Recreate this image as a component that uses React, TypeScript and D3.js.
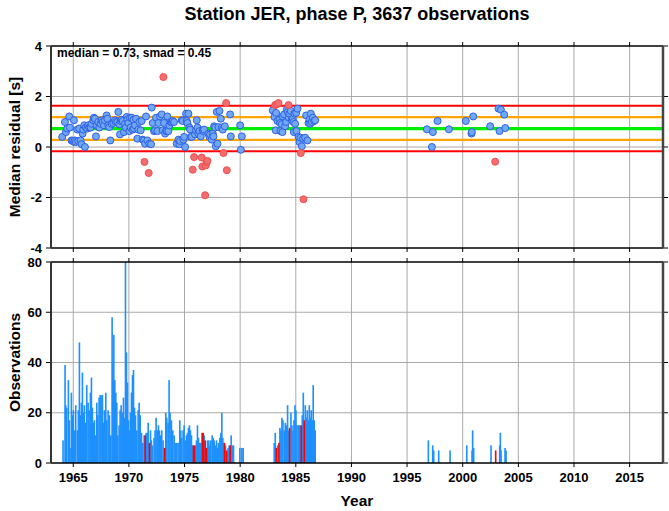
import React from 'react';
import * as d3 from 'd3';

const W = 669;
const H = 511;

const MEDIAN = 0.73;
const SMAD = 0.45;

const xTicks = [1965, 1970, 1975, 1980, 1985, 1990, 1995, 2000, 2005, 2010, 2015];
const resTicks = [-4, -2, 0, 2, 4];
const obsTicks = [0, 20, 40, 60, 80];

// monthly median residuals (year, residual)
const resYears = [
  1964.01, 1964.25, 1964.34, 1964.46, 1964.64, 1964.70, 1964.85, 1964.94, 1965.06, 1965.08,
  1965.15, 1965.24, 1965.36, 1965.45, 1965.54, 1965.66, 1965.75, 1965.84, 1965.90, 1965.99,
  1966.05, 1966.14, 1966.26, 1966.35, 1966.44, 1966.56, 1966.65, 1966.80, 1966.86, 1966.95,
  1967.04, 1967.10, 1967.25, 1967.34, 1967.46, 1967.55, 1967.64, 1967.76, 1967.85, 1968.00,
  1968.06, 1968.15, 1968.24, 1968.33, 1968.45, 1968.60, 1968.75, 1968.84, 1968.96, 1969.05,
  1969.14, 1969.20, 1969.26, 1969.35, 1969.44, 1969.56, 1969.65, 1969.74, 1969.80, 1969.86,
  1969.95, 1970.04, 1970.10, 1970.16, 1970.25, 1970.34, 1970.40, 1970.46, 1970.55, 1970.64,
  1970.76, 1970.85, 1970.94, 1971.06, 1971.15, 1971.24, 1971.36, 1971.45, 1971.40, 1971.54,
  1971.66, 1971.78, 1971.84, 1971.99, 1972.05, 1972.14, 1972.26, 1972.35, 1972.44, 1972.56,
  1972.65, 1972.80, 1972.95, 1973.04, 1973.10, 1973.16, 1973.25, 1973.34, 1973.40, 1973.46,
  1973.55, 1973.64, 1973.76, 1973.85, 1973.94, 1974.06, 1974.30, 1974.45, 1974.54, 1974.60,
  1974.75, 1974.84, 1974.90, 1974.96, 1975.05, 1975.14, 1975.20, 1975.26, 1975.35, 1975.44,
  1975.50, 1975.56, 1975.65, 1975.74, 1975.86, 1975.95, 1976.04, 1976.10, 1976.16, 1976.25,
  1976.34, 1976.46, 1976.55, 1976.60, 1976.64, 1976.70, 1976.76, 1976.85, 1976.91, 1977.00,
  1977.06, 1977.15, 1977.24, 1977.30, 1977.45, 1977.54, 1977.60, 1977.66, 1977.75, 1977.81,
  1977.90, 1977.96, 1978.05, 1978.14, 1978.26, 1978.35, 1978.44, 1978.50, 1978.62, 1978.74,
  1978.80, 1979.10, 1979.16, 1980.00, 1980.06, 1980.15,
  1982.93, 1983.08, 1983.14, 1983.20, 1983.23, 1983.29, 1983.35, 1983.44, 1983.53, 1983.59,
  1983.62, 1983.74, 1983.80, 1983.83, 1983.95, 1984.04, 1984.13, 1984.19, 1984.28, 1984.34,
  1984.37, 1984.43, 1984.55, 1984.64, 1984.73, 1984.79, 1984.82, 1984.88, 1984.94, 1985.03,
  1985.06, 1985.15, 1985.24, 1985.33, 1985.42, 1985.45, 1985.54, 1985.66, 1985.69, 1985.84,
  1985.93, 1986.05, 1986.14, 1986.23, 1986.29, 1986.35, 1986.44, 1986.53, 1986.65, 1986.74,
  1996.78, 1997.23, 1997.32, 1997.74, 1998.76, 2000.28, 2000.79, 2000.82, 2000.94, 2002.47,
  2002.92, 2003.22, 2003.31, 2003.43, 2003.73, 2003.82,
];
const resValues = [
  0.40, 0.99, 0.59, 0.73, 1.21, 0.77, 0.26, 0.24, 1.06, 0.20,
  0.26, 0.20, 0.69, 0.24, 0.73, 0.26, 0.11, 0.53, 0.69, 0.86,
  0.00, 0.77, 0.73, 0.86, 0.77, 0.77, 0.92, 1.06, 1.16, 1.12,
  0.42, 0.86, 0.99, 0.77, 0.92, 1.06, 0.99, 0.86, 1.06, 1.25,
  1.12, 0.86, 0.79, 0.26, 0.92, 0.95, 1.06, 0.99, 0.99, 1.39,
  0.90, 0.50, 1.03, 1.08, 1.03, 0.59, 0.92, 0.77, 1.19, 1.08,
  0.95, 0.63, 1.16, 0.77, 1.16, 0.69, 1.08, 0.73, 0.86, 1.12,
  0.33, 0.69, 0.99, 0.66, 1.03, 0.29, 0.26, 0.13, -0.59, 1.21,
  0.26, -1.03, 0.13, 0.11, 1.56, 0.95, 0.63, 0.66, 1.16, 0.63,
  0.95, 1.21, 1.29, 0.66, 2.77, 0.95, 0.53, 0.63, 0.63, 1.21,
  0.63, 0.86, 0.99, 0.99, 1.03, 0.99, 0.13, 0.29, 0.11, 0.24,
  1.06, 1.03, 0.29, 0.40, 0.00, 1.32, 1.03, 0.95, 1.32, 0.77,
  0.69, 0.40, 0.40, -0.90, -0.40, 0.50, 0.66, 1.06, 0.77, 0.53,
  0.63, 0.42, -0.42, -0.77, 0.66, 0.63, 0.69, -1.91, -0.73, -0.59,
  -0.55, 0.53, 0.40, 0.50, 0.29, 0.53, 0.42, 0.82, 0.77, 0.03,
  1.39, 0.13, 0.79, 1.43, 1.12, 0.77, 0.69, -0.24, 0.82, 1.74,
  -0.92, 1.29, 0.42, 0.86, -0.11, 0.42,
  1.45, 1.19, 1.66, 0.66, 1.35, 1.69, 1.03, 1.74, 1.08, 0.95,
  0.63, 0.90, 0.59, 1.21, 1.29, 0.82, 0.99, 1.48, 1.39, 1.66,
  1.16, 1.32, 1.43, 1.08, 1.12, 0.99, 0.59, 1.32, 0.92, 1.35,
  0.63, 1.52, 0.40, 0.20, 0.37, -0.24, 0.03, 0.33, -2.07, 0.37,
  1.25, 0.26, 0.95, 1.08, 0.92, 1.32, 0.99, 1.16, 1.03, 1.06,
  0.70, 0.00, 0.59, 1.03, 0.70, 1.03, 0.53, 0.59, 1.21, 0.82,
  -0.58, 1.52, 0.63, 1.48, 1.28, 0.75,
];

// monthly observation counts (within limits)
const obsYears = [
  1964.01, 1964.19, 1964.25, 1964.34, 1964.49, 1964.58, 1964.64, 1964.76, 1964.85, 1964.94,
  1965.06, 1965.15, 1965.30, 1965.39, 1965.48, 1965.57, 1965.66, 1965.75, 1965.84, 1965.93,
  1966.02, 1966.14, 1966.26, 1966.35, 1966.47, 1966.56, 1966.65, 1966.74, 1966.83, 1966.95,
  1967.04, 1967.13, 1967.25, 1967.34, 1967.43, 1967.55, 1967.64, 1967.73, 1967.85, 1967.94,
  1968.06, 1968.18, 1968.30, 1968.42, 1968.48, 1968.57, 1968.66, 1968.75, 1968.84, 1968.93,
  1969.05, 1969.14, 1969.23, 1969.35, 1969.44, 1969.56, 1969.62, 1969.71, 1969.80, 1969.89,
  1969.98, 1970.07, 1970.16, 1970.25, 1970.34, 1970.43, 1970.52, 1970.64, 1970.76, 1970.85,
  1970.94, 1971.06, 1971.18, 1971.30, 1971.48, 1971.57, 1971.66, 1971.87, 1971.95, 1972.04,
  1972.19, 1972.28, 1972.37, 1972.49, 1972.58, 1972.67, 1972.79, 1972.88, 1973.00, 1973.06,
  1973.24, 1973.33, 1973.45, 1973.54, 1973.63, 1973.75, 1973.87, 1973.99, 1974.11, 1974.23,
  1974.35, 1974.50, 1974.59, 1974.68, 1974.80, 1974.89, 1975.01, 1975.10, 1975.19, 1975.28,
  1975.37, 1975.46, 1975.55, 1975.64, 1975.91, 1976.00, 1976.09, 1976.18, 1976.30, 1976.39,
  1976.69, 1976.99, 1977.11, 1977.20, 1977.29, 1977.41, 1977.50, 1977.59, 1977.71, 1977.80,
  1977.89, 1977.98, 1978.10, 1978.19, 1978.28, 1978.37, 1978.44, 1978.61, 1978.85, 1978.94,
  1979.12, 1979.24, 1979.33, 1979.90, 1980.08, 1980.20,
  1982.99, 1983.08, 1983.29, 1983.50, 1983.59, 1983.68, 1983.77, 1983.89, 1983.98, 1984.07,
  1984.19, 1984.28, 1984.49, 1984.58, 1984.67, 1984.76, 1984.85, 1984.94, 1985.03, 1985.15,
  1985.24, 1985.33, 1985.51, 1985.60, 1985.78, 1985.87, 1985.96, 1986.05, 1986.14, 1986.23,
  1986.31, 1986.40, 1986.49, 1986.58, 1986.67,
  1996.84, 1997.23, 1997.32, 1997.77, 1998.79, 2000.29, 2000.77, 2000.82, 2000.91, 2002.47,
  2003.25, 2003.31, 2003.37, 2003.73, 2003.82,
];
const obsCounts = [
  9, 39, 23, 22, 33, 17, 6, 28, 19, 21,
  13, 23, 13, 21, 48, 19, 24, 36, 20, 23,
  16, 31, 24, 21, 28, 34, 22, 16, 17, 11,
  24, 19, 26, 27, 27, 27, 16, 21, 28, 17,
  21, 19, 11, 58, 40, 51, 33, 28, 24, 11,
  15, 21, 23, 20, 26, 18, 80, 44, 32, 17,
  13, 20, 28, 35, 37, 22, 19, 13, 21, 24,
  19, 12, 8, 11, 12, 12, 16, 13, 9, 7,
  10, 13, 18, 13, 15, 13, 11, 13, 9, 6,
  20, 18, 16, 33, 20, 17, 13, 11, 8, 8,
  8, 17, 13, 10, 13, 15, 9, 11, 12, 14,
  15, 13, 11, 7, 7, 9, 15, 10, 8, 8,
  11, 9, 9, 7, 9, 11, 10, 9, 7, 9,
  6, 8, 10, 12, 20, 10, 8, 7, 6, 7,
  11, 7, 7, 6, 6, 6,
  8, 12, 7, 14, 13, 18, 17, 13, 16, 15,
  23, 13, 20, 15, 13, 17, 23, 21, 15, 15,
  15, 15, 19, 28, 23, 18, 21, 17, 23, 18,
  21, 17, 31, 17, 13,
  9, 7, 5, 5, 5, 7, 5, 13, 6, 7,
  7, 12, 5, 6, 5,
];

// months whose median falls outside the limits
const outYears = [
  1971.39, 1971.78, 1973.15, 1975.73, 1975.82, 1976.51, 1976.60, 1976.78, 1976.90, 1978.52,
  1978.73, 1979.03, 1983.17, 1983.41, 1984.37, 1985.42, 1985.69, 2002.89,
];
const outCounts = [11, 8, 6, 7, 7, 12, 12, 9, 6, 8, 5, 7, 6, 8, 14, 15, 17, 5];

const FONT = 'Liberation Sans, Arial, Helvetica, sans-serif';

export default function App() {
  const L = 51, R = 663;
  const x = d3.scaleLinear().domain([1963, 2018]).range([L, R]);
  const yT = d3.scaleLinear().domain([-4, 4]).range([248, 46]);
  const yB = d3.scaleLinear().domain([0, 80]).range([463, 262]);
  const month = x(1 / 12) - x(0);
  const barW = month + 0.7;

  const lo = MEDIAN - 2 * SMAD;
  const hi = MEDIAN + 2 * SMAD;
  const pts = resYears.map((yr, i) => ({ yr, v: resValues[i] }));
  const bluePts = pts.filter((p) => p.v >= lo && p.v <= hi);
  const redPts = pts.filter((p) => p.v < lo || p.v > hi);

  const panel = (y: d3.ScaleLinear<number, number>, ticks: number[], key: string) => {
    const [b, t] = y.range();
    return (
      <g key={key}>
        {xTicks.map((v) => (
          <line key={'gx' + v} x1={x(v)} x2={x(v)} y1={t} y2={b} stroke="#aaa" strokeWidth={1} />
        ))}
        {ticks.slice(1, -1).map((v) => (
          <line key={'gy' + v} x1={L} x2={R} y1={y(v)} y2={y(v)} stroke="#aaa" strokeWidth={1} />
        ))}
      </g>
    );
  };

  const frame = (y: d3.ScaleLinear<number, number>, ticks: number[], key: string) => {
    const [b, t] = y.range();
    return (
      <g key={key}>
        {xTicks.map((v) => (
          <g key={'t' + v}>
            <line x1={x(v)} x2={x(v)} y1={t} y2={t - 4} stroke="#000" strokeWidth={1} />
            <line x1={x(v)} x2={x(v)} y1={b} y2={b + 4} stroke="#000" strokeWidth={1} />
          </g>
        ))}
        {ticks.map((v) => (
          <g key={'yt' + v}>
            <line x1={L - 5} x2={L} y1={y(v)} y2={y(v)} stroke="#000" strokeWidth={1} />
            <line x1={R} x2={R + 5} y1={y(v)} y2={y(v)} stroke="#000" strokeWidth={1} />
            <text x={L - 9} y={y(v)} dy="0.36em" textAnchor="end" fontSize={13} fontWeight="bold" fontFamily={FONT}>
              {v}
            </text>
          </g>
        ))}
        <line x1={L} x2={R} y1={t} y2={t} stroke="#000" strokeWidth={1.5} />
        <line x1={L} x2={R} y1={b} y2={b} stroke="#000" strokeWidth={1.5} />
        <line x1={L} x2={L} y1={t} y2={b} stroke="#333" strokeWidth={2} />
        <line x1={R} x2={R} y1={t} y2={b} stroke="#444" strokeWidth={2.5} />
      </g>
    );
  };

  return (
    <svg width={W} height={H} style={{ position: 'absolute', left: 0, top: 0, background: '#fff' }}>
      <rect x={0} y={0} width={W} height={H} fill="#fff" />
      <text x={(L + R) / 2} y={20} textAnchor="middle" fontSize={18} fontWeight="bold" fontFamily={FONT}>
        Station JER, phase P, 3637 observations
      </text>

      {panel(yT, resTicks, 'gt')}
      <line x1={L} x2={R} y1={yT(hi)} y2={yT(hi)} stroke="#ff0000" strokeWidth={2} />
      <line x1={L} x2={R} y1={yT(lo)} y2={yT(lo)} stroke="#ff0000" strokeWidth={2} />
      <line x1={L} x2={R} y1={yT(MEDIAN + SMAD)} y2={yT(MEDIAN + SMAD)} stroke="#ffa500" strokeWidth={2.2} />
      <line x1={L} x2={R} y1={yT(MEDIAN - SMAD)} y2={yT(MEDIAN - SMAD)} stroke="#ffa500" strokeWidth={2.2} />
      <line x1={L} x2={R} y1={yT(MEDIAN)} y2={yT(MEDIAN)} stroke="#00ee00" strokeWidth={3.2} />
      {bluePts.map((p, i) => (
        <circle key={'b' + i} cx={x(p.yr)} cy={yT(p.v)} r={3.5} fill="#70a8f4" stroke="#2f5fe6" strokeWidth={1} />
      ))}
      {redPts.map((p, i) => (
        <circle key={'r' + i} cx={x(p.yr)} cy={yT(p.v)} r={3.5} fill="#f46c6c" stroke="#ee5050" strokeWidth={1} />
      ))}
      <text x={57} y={57} fontSize={12} fontWeight="bold" fontFamily={FONT}>
        median = {MEDIAN.toFixed(2)}, smad = {SMAD.toFixed(2)}
      </text>
      {frame(yT, resTicks, 'ft')}

      {panel(yB, obsTicks, 'gb')}
      {obsYears.map((yr, i) => (
        <rect key={'o' + i} x={x(yr)} y={yB(obsCounts[i])} width={barW} height={yB(0) - yB(obsCounts[i])} fill="#1e90ff" />
      ))}
      {outYears.map((yr, i) => (
        <rect key={'x' + i} x={x(yr)} y={yB(outCounts[i])} width={barW} height={yB(0) - yB(outCounts[i])} fill="#ff0000" />
      ))}
      {frame(yB, obsTicks, 'fb')}
      {xTicks.map((v) => (
        <text key={'xl' + v} x={x(v)} y={482} textAnchor="middle" fontSize={13} fontWeight="bold" fontFamily={FONT}>
          {v}
        </text>
      ))}

      <text x={(L + R) / 2} y={506} textAnchor="middle" fontSize={15.5} fontWeight="bold" fontFamily={FONT}>
        Year
      </text>
      <text transform={`translate(20,${yT(0)}) rotate(-90)`} textAnchor="middle" fontSize={15.5} fontWeight="bold" fontFamily={FONT}>
        Median residual [s]
      </text>
      <text transform={`translate(20,${yB(40)}) rotate(-90)`} textAnchor="middle" fontSize={15.5} fontWeight="bold" fontFamily={FONT}>
        Observations
      </text>
    </svg>
  );
}
